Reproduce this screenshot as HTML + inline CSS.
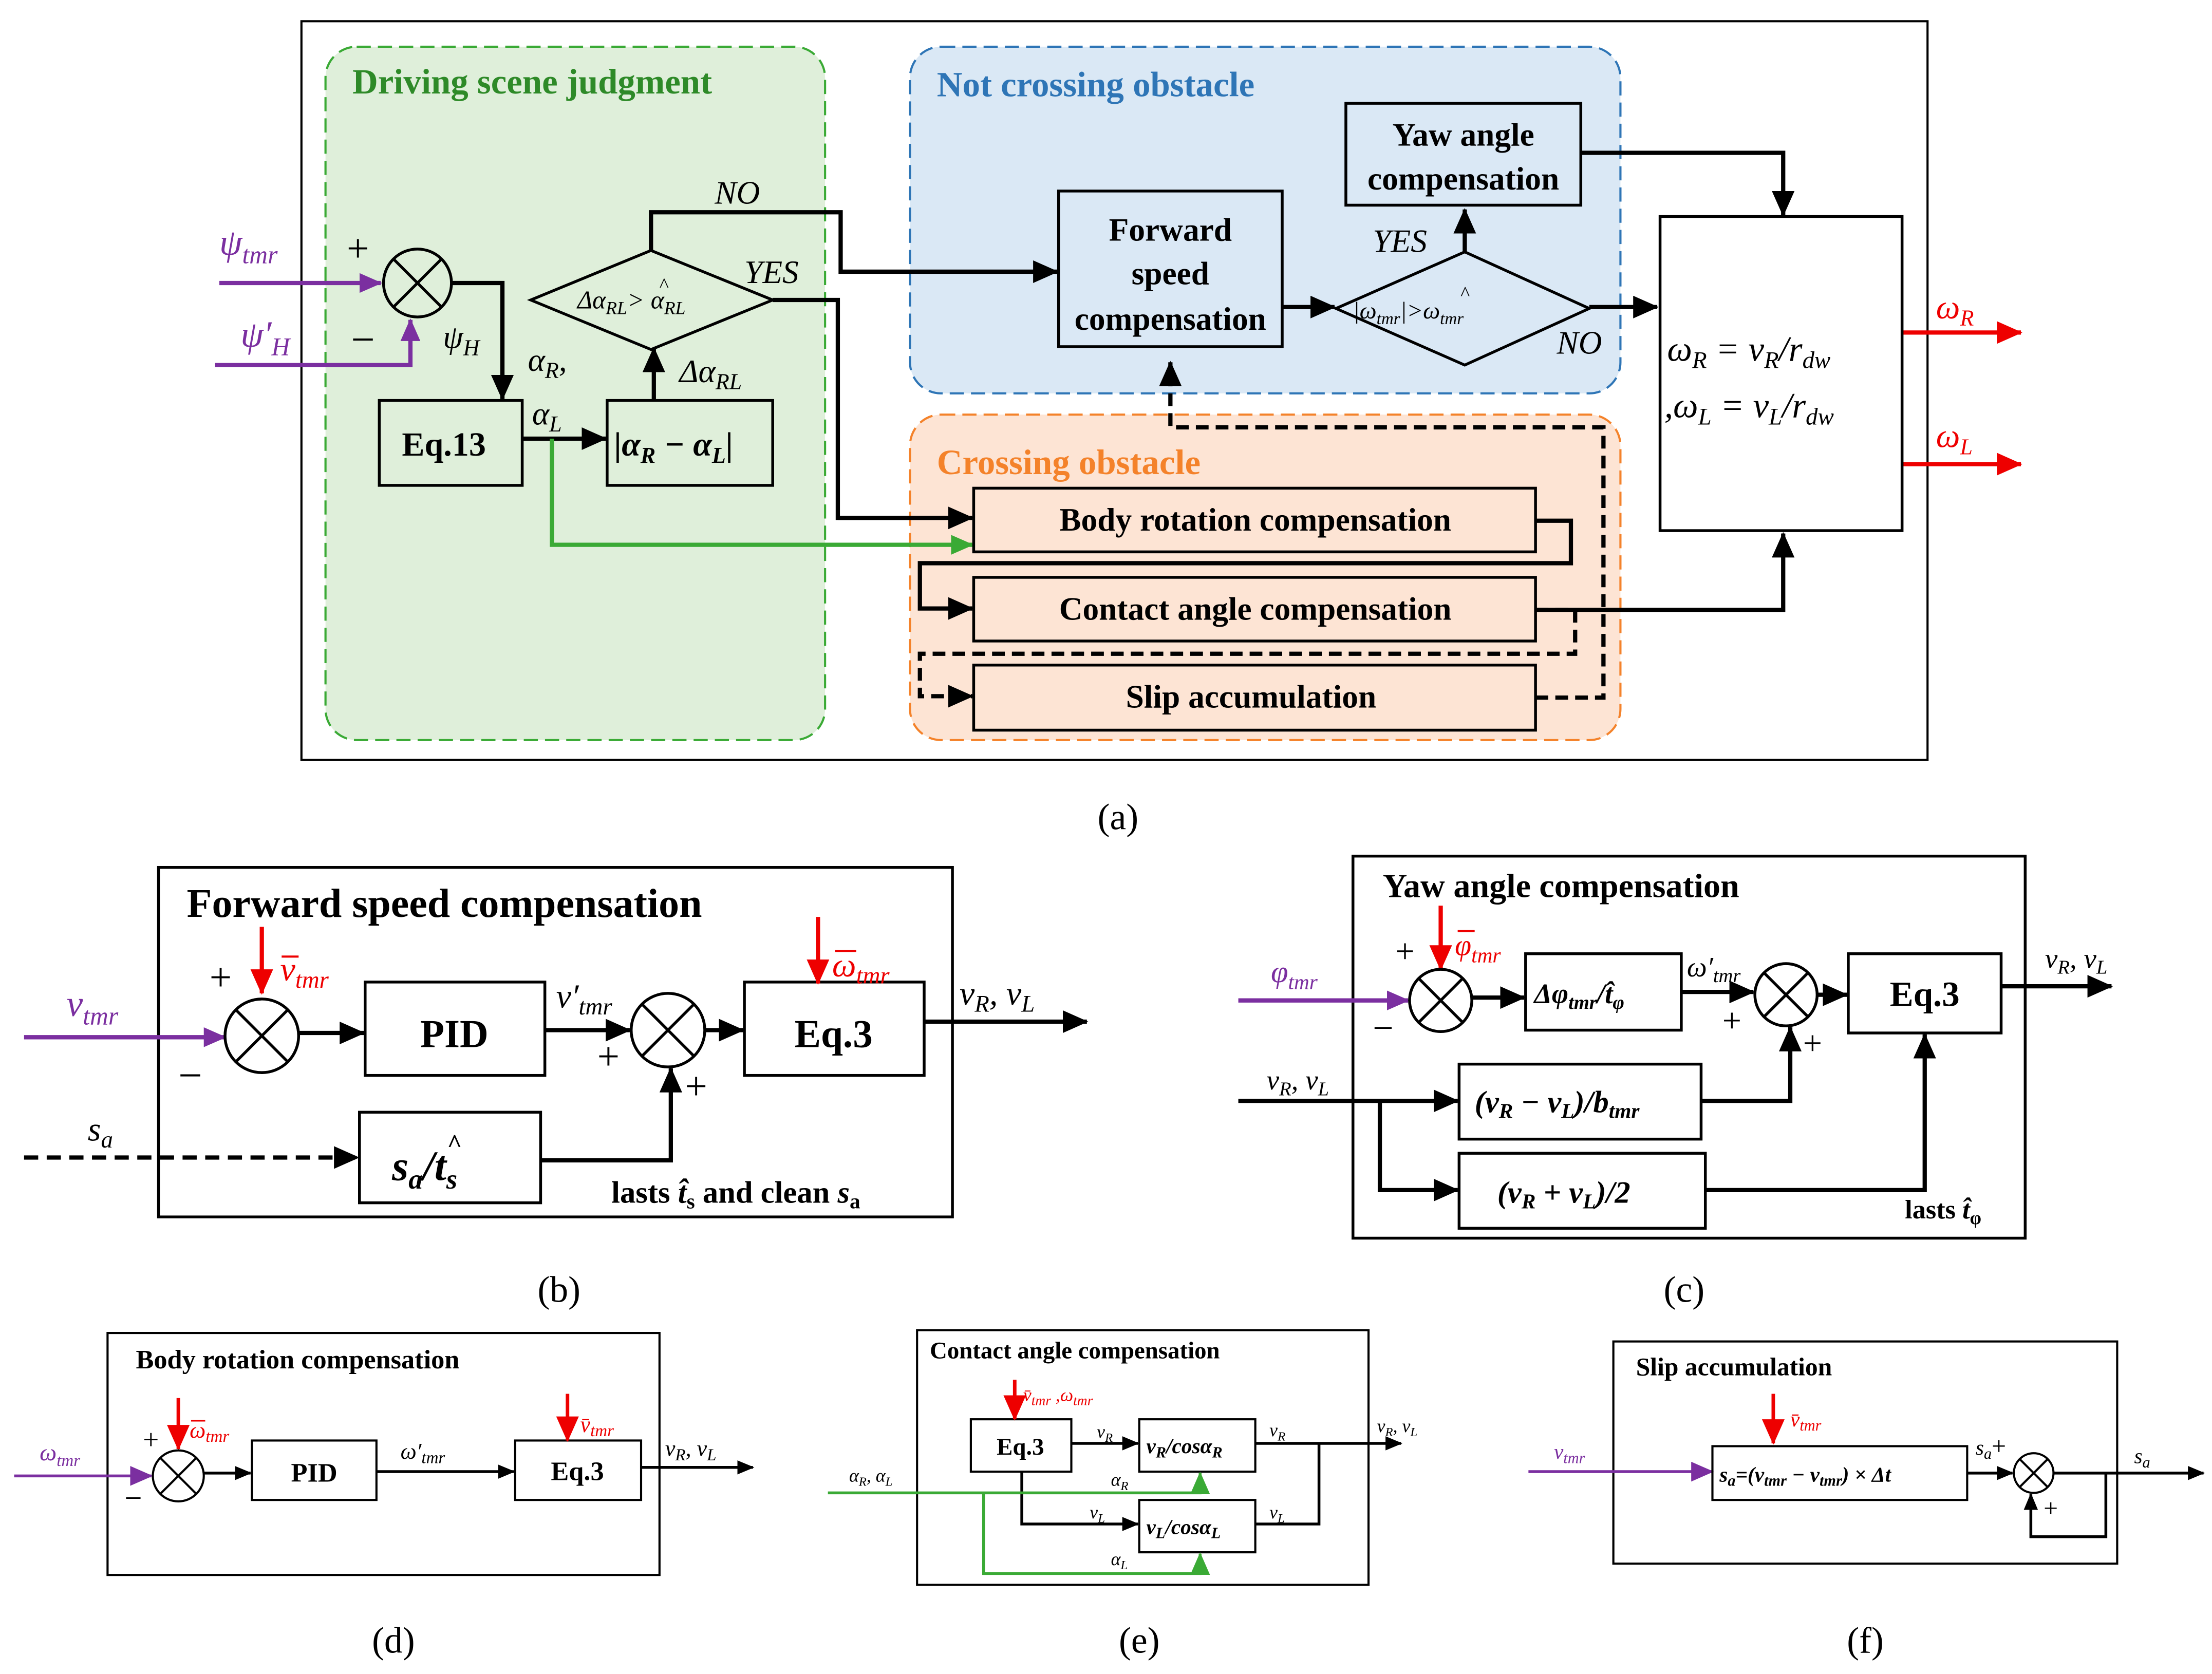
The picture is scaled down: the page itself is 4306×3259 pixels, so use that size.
<!DOCTYPE html>
<html><head><meta charset="utf-8"><style>
html,body{margin:0;padding:0;background:#fff}
svg{display:block}
text{font-family:"Liberation Serif",serif}
.b{font-weight:bold}
.i{font-style:italic}
</style></head><body>
<svg width="4306" height="3259" viewBox="0 0 1563 1183" preserveAspectRatio="none" xmlns="http://www.w3.org/2000/svg">
<defs>
<marker id="ak" markerWidth="12" markerHeight="10" refX="11" refY="5" orient="auto" markerUnits="userSpaceOnUse"><path d="M0,0 L12,5 L0,10z" fill="#000"/></marker>
<marker id="ar" markerWidth="18" markerHeight="16" refX="17" refY="8" orient="auto" markerUnits="userSpaceOnUse"><path d="M0,0 L18,8 L0,16z" fill="#e00"/></marker>
<marker id="ap" markerWidth="16" markerHeight="14" refX="15" refY="7" orient="auto" markerUnits="userSpaceOnUse"><path d="M0,0 L16,7 L0,14z" fill="#7b2fa0"/></marker>
<marker id="ag" markerWidth="16" markerHeight="14" refX="15" refY="7" orient="auto" markerUnits="userSpaceOnUse"><path d="M0,0 L16,7 L0,14z" fill="#3aaa35"/></marker>
<marker id="ak2" markerWidth="18" markerHeight="16" refX="17" refY="8" orient="auto" markerUnits="userSpaceOnUse"><path d="M0,0 L18,8 L0,16z" fill="#000"/></marker>
</defs>
<rect width="1563" height="1183" fill="#fff"/>

<!-- (a) -->
<rect x="213" y="15" width="1149" height="522" fill="none" stroke="#000" stroke-width="1.5"/>
<rect x="230" y="33" width="353" height="490" rx="22" fill="#dfefda" stroke="#3aaa35" stroke-width="1.5" stroke-dasharray="10,5"/>
<rect x="643" y="33" width="502" height="245" rx="22" fill="#dae8f5" stroke="#2e75b6" stroke-width="1.5" stroke-dasharray="10,5"/>
<rect x="643" y="293" width="502" height="230" rx="22" fill="#fde4d4" stroke="#f4822a" stroke-width="1.5" stroke-dasharray="10,5"/>
<text x="249" y="66" class="b" font-size="25" fill="#2e8a28">Driving scene judgment</text>
<text x="662" y="68" class="b" font-size="25" fill="#2e75b6">Not crossing obstacle</text>
<text x="662" y="335" class="b" font-size="25" fill="#f4822a">Crossing obstacle</text>

<g stroke="#000" stroke-width="3" fill="none">
<circle cx="295" cy="200" r="24" stroke-width="2"/>
<path d="M278,183 L312,217 M312,183 L278,217" stroke-width="2"/>
<path d="M319,200 H355 V282" marker-end="url(#ak2)"/>
<path d="M369,310 H428" marker-end="url(#ak2)"/>
<path d="M462,283 V246" marker-end="url(#ak2)"/>
<path d="M460,177 V150 H594 V192 H747" marker-end="url(#ak2)"/>
<path d="M546,212 H592 V366 H668"/>
<path d="M906,217 H943" marker-end="url(#ak2)"/>
<path d="M1035,178 V148" marker-end="url(#ak2)"/>
<path d="M1123,217 H1171" marker-end="url(#ak2)"/>
<path d="M1117,108 H1260 V152" marker-end="url(#ak2)"/>
<path d="M1085,368 H1110 V398 H650 V430 H687" marker-end="url(#ak2)"/>
<path d="M1085,431 H1260 V377" marker-end="url(#ak2)"/>
<path d="M1085,431 H1113 V462 H650 V492 H687" stroke-dasharray="9,5" marker-end="url(#ak2)"/>
<path d="M1085,493 H1133 V302 H827 V256" stroke-dasharray="9,5" marker-end="url(#ak2)"/>
</g>
<path d="M390,310 V385 H687" stroke="#3aaa35" stroke-width="3" fill="none" marker-end="url(#ag)"/>
<path d="M592,366 H687" stroke="#000" stroke-width="3" fill="none" marker-end="url(#ak2)"/>
<path d="M155,200 H269" stroke="#7b2fa0" stroke-width="3" marker-end="url(#ap)"/>
<path d="M152,258 H290 V226" stroke="#7b2fa0" stroke-width="3" fill="none" marker-end="url(#ap)"/>
<path d="M1344,235 H1428" stroke="#e00" stroke-width="3" marker-end="url(#ar)"/>
<path d="M1344,328 H1428" stroke="#e00" stroke-width="3" marker-end="url(#ar)"/>

<g stroke="#000" stroke-width="2">
<rect x="268" y="283" width="101" height="60" fill="#dfefda"/>
<rect x="429" y="283" width="117" height="60" fill="#dfefda"/>
<polygon points="375,212 460,177 546,212 460,247" fill="#dfefda"/>
<rect x="748" y="135" width="158" height="110" fill="#dae8f5"/>
<polygon points="944,218 1035,178 1123,218 1035,258" fill="#dae8f5"/>
<rect x="951" y="73" width="166" height="72" fill="#dae8f5"/>
<rect x="1173" y="153" width="171" height="222" fill="#fff"/>
<rect x="688" y="345" width="397" height="45" fill="#fde4d4"/>
<rect x="688" y="408" width="397" height="45" fill="#fde4d4"/>
<rect x="688" y="470" width="397" height="46" fill="#fde4d4"/>
</g>
<g font-size="23">
<text x="284" y="322" class="b" font-size="24">Eq.13</text>
<text x="434" y="322" class="b i" font-size="24">|α<tspan font-size="16" dy="5">R</tspan><tspan dy="-5"> − α</tspan><tspan font-size="16" dy="5">L</tspan><tspan dy="-5">|</tspan></text>
<text x="408" y="218" class="i" font-size="18">Δα<tspan font-size="13" dy="4">RL</tspan><tspan dy="-4">&gt; α</tspan><tspan font-size="13" dy="4">RL</tspan></text>
<text x="466" y="206" font-size="14">^</text>
<text x="505" y="144" class="i">NO</text>
<text x="526" y="200" class="i">YES</text>
<text x="480" y="270" class="i">Δα<tspan font-size="16" dy="5">RL</tspan></text>
<text x="373" y="262" class="i">α<tspan font-size="16" dy="5">R</tspan><tspan dy="-5">,</tspan></text>
<text x="376" y="300" class="i">α<tspan font-size="16" dy="5">L</tspan></text>
<text x="313" y="246" class="i">ψ<tspan font-size="16" dy="5">H</tspan></text>
<text x="155" y="180" class="i" fill="#7b2fa0" font-size="26">ψ<tspan font-size="18" dy="6">tmr</tspan></text>
<text x="170" y="245" class="i" fill="#7b2fa0" font-size="26">ψ′<tspan font-size="18" dy="6">H</tspan></text>
<text x="245" y="185" font-size="28">+</text>
<text x="248" y="250" font-size="30">−</text>
<text x="827" y="170" class="b" text-anchor="middle">Forward</text>
<text x="827" y="201" class="b" text-anchor="middle">speed</text>
<text x="827" y="233" class="b" text-anchor="middle">compensation</text>
<text x="1034" y="103" class="b" text-anchor="middle">Yaw angle</text>
<text x="1034" y="134" class="b" text-anchor="middle">compensation</text>
<text x="970" y="178" class="i">YES</text>
<text x="1100" y="250" class="i">NO</text>
<text x="956" y="225" class="i" font-size="17">|ω<tspan font-size="12" dy="4">tmr</tspan><tspan dy="-4">|&gt;ω</tspan><tspan font-size="12" dy="4">tmr</tspan></text>
<text x="1032" y="212" font-size="14">^</text>
<text x="1178" y="255" class="i" font-size="25">ω<tspan font-size="17" dy="5">R</tspan><tspan dy="-5"> = v</tspan><tspan font-size="17" dy="5">R</tspan><tspan dy="-5">/r</tspan><tspan font-size="17" dy="5">dw</tspan></text>
<text x="1176" y="295" class="i" font-size="25">,ω<tspan font-size="17" dy="5">L</tspan><tspan dy="-5"> = v</tspan><tspan font-size="17" dy="5">L</tspan><tspan dy="-5">/r</tspan><tspan font-size="17" dy="5">dw</tspan></text>
<text x="1368" y="225" class="i" fill="#e00" font-size="24">ω<tspan font-size="16" dy="5">R</tspan></text>
<text x="1368" y="316" class="i" fill="#e00" font-size="24">ω<tspan font-size="16" dy="5">L</tspan></text>
<text x="887" y="375" class="b" text-anchor="middle">Body rotation compensation</text>
<text x="887" y="438" class="b" text-anchor="middle">Contact angle compensation</text>
<text x="884" y="500" class="b" text-anchor="middle">Slip accumulation</text>
<text x="790" y="586" font-size="26" text-anchor="middle">(a)</text>
</g>

<!-- (b) -->
<rect x="112" y="613" width="561" height="247" fill="none" stroke="#000" stroke-width="2"/>
<text x="132" y="648" class="b" font-size="29">Forward speed compensation</text>
<path d="M17,733 H159" stroke="#7b2fa0" stroke-width="3" marker-end="url(#ap)"/>
<text x="47" y="718" class="i" fill="#7b2fa0" font-size="26">v<tspan font-size="18" dy="6">tmr</tspan></text>
<path d="M185,655 V702" stroke="#e00" stroke-width="3" marker-end="url(#ar)"/>
<text x="198" y="693" class="i" fill="#e00" font-size="24">v<tspan font-size="17" dy="5">tmr</tspan></text>
<path d="M199,676 H211" stroke="#e00" stroke-width="1.5"/>
<text x="148" y="700" font-size="28">+</text>
<text x="126" y="770" font-size="30">−</text>
<g stroke="#000" stroke-width="2" fill="none">
<circle cx="185" cy="732" r="26"/><path d="M167,714 L203,750 M203,714 L167,750"/>
<circle cx="472" cy="728" r="26"/><path d="M454,710 L490,746 M490,710 L454,746"/>
<rect x="258" y="694" width="127" height="66"/>
<rect x="526" y="694" width="127" height="66"/>
<rect x="254" y="786" width="128" height="64"/>
</g>
<g stroke="#000" stroke-width="3" fill="none">
<path d="M211,730 H257" marker-end="url(#ak2)"/>
<path d="M385,728 H445" marker-end="url(#ak2)"/>
<path d="M498,728 H525" marker-end="url(#ak2)"/>
<path d="M653,722 H768" marker-end="url(#ak2)"/>
<path d="M17,818 H253" stroke-dasharray="10,6" marker-end="url(#ak2)"/>
<path d="M382,820 H474 V755" marker-end="url(#ak2)"/>
</g>
<path d="M578,648 V695" stroke="#e00" stroke-width="3" marker-end="url(#ar)"/>
<text x="588" y="690" class="i" fill="#e00" font-size="24">ω<tspan font-size="17" dy="5">tmr</tspan></text>
<path d="M590,672 H605" stroke="#e00" stroke-width="1.5"/>
<text x="321" y="740" class="b" font-size="28" text-anchor="middle">PID</text>
<text x="589" y="740" class="b" font-size="28" text-anchor="middle">Eq.3</text>
<text x="277" y="834" class="b i" font-size="30">s<tspan font-size="20" dy="6">a</tspan><tspan dy="-6">/t</tspan><tspan font-size="20" dy="6">s</tspan></text>
<text x="316" y="814" font-size="18" class="b">^</text>
<text x="393" y="712" class="i" font-size="24">v′<tspan font-size="17" dy="5">tmr</tspan></text>
<text x="678" y="710" class="i" font-size="24">v<tspan font-size="17" dy="5">R</tspan><tspan dy="-5">, v</tspan><tspan font-size="17" dy="5">L</tspan></text>
<text x="62" y="806" class="i" font-size="24">s<tspan font-size="17" dy="5">a</tspan></text>
<text x="422" y="756" font-size="28">+</text>
<text x="484" y="777" font-size="28">+</text>
<text x="432" y="850" class="b" font-size="22">lasts <tspan class="i">t̂</tspan><tspan font-size="15" dy="4">s</tspan><tspan dy="-4"> and clean </tspan><tspan class="i">s</tspan><tspan font-size="15" dy="4">a</tspan></text>
<text x="395" y="920" font-size="26" text-anchor="middle">(b)</text>

<!-- (c) -->
<rect x="956" y="605" width="475" height="270" fill="none" stroke="#000" stroke-width="2"/>
<text x="977" y="634" class="b" font-size="24">Yaw angle compensation</text>
<path d="M875,707 H995" stroke="#7b2fa0" stroke-width="3" marker-end="url(#ap)"/>
<text x="898" y="694" class="i" fill="#7b2fa0" font-size="22">φ<tspan font-size="15" dy="5">tmr</tspan></text>
<path d="M1018,640 V685" stroke="#e00" stroke-width="3" marker-end="url(#ar)"/>
<text x="1028" y="675" class="i" fill="#e00" font-size="21">φ<tspan font-size="15" dy="5">tmr</tspan></text>
<path d="M1030,658 H1042" stroke="#e00" stroke-width="1.5"/>
<text x="986" y="680" font-size="24">+</text>
<text x="970" y="735" font-size="26">−</text>
<g stroke="#000" stroke-width="2" fill="none">
<circle cx="1018" cy="707" r="22"/><path d="M1003,692 L1033,722 M1033,692 L1003,722"/>
<circle cx="1262" cy="703" r="22"/><path d="M1247,688 L1277,718 M1277,688 L1247,718"/>
<rect x="1078" y="674" width="110" height="54"/>
<rect x="1306" y="674" width="108" height="56"/>
<rect x="1031" y="752" width="171" height="53"/>
<rect x="1031" y="815" width="174" height="53"/>
</g>
<g stroke="#000" stroke-width="3" fill="none">
<path d="M1040,705 H1077" marker-end="url(#ak2)"/>
<path d="M1188,701 H1239" marker-end="url(#ak2)"/>
<path d="M1284,703 H1305" marker-end="url(#ak2)"/>
<path d="M1414,697 H1492" marker-end="url(#ak2)"/>
<path d="M875,778 H1030" marker-end="url(#ak2)"/>
<path d="M975,778 V841 H1030" marker-end="url(#ak2)"/>
<path d="M1202,778 H1265 V726" marker-end="url(#ak2)"/>
<path d="M1205,841 H1360 V731" marker-end="url(#ak2)"/>
</g>
<text x="1084" y="709" class="b i" font-size="20">Δφ<tspan font-size="14" dy="4">tmr</tspan><tspan dy="-4">/t̂</tspan><tspan font-size="14" dy="4">φ</tspan></text>
<text x="1360" y="711" class="b" font-size="25" text-anchor="middle">Eq.3</text>
<text x="1042" y="786" class="b i" font-size="22">(v<tspan font-size="15" dy="4">R</tspan><tspan dy="-4"> − v</tspan><tspan font-size="15" dy="4">L</tspan><tspan dy="-4">)/b</tspan><tspan font-size="15" dy="4">tmr</tspan></text>
<text x="1058" y="850" class="b i" font-size="22">(v<tspan font-size="15" dy="4">R</tspan><tspan dy="-4"> + v</tspan><tspan font-size="15" dy="4">L</tspan><tspan dy="-4">)/2</tspan></text>
<text x="1192" y="690" class="i" font-size="20">ω′<tspan font-size="14" dy="4">tmr</tspan></text>
<text x="1445" y="684" class="i" font-size="20">v<tspan font-size="14" dy="4">R</tspan><tspan dy="-4">, v</tspan><tspan font-size="14" dy="4">L</tspan></text>
<text x="895" y="770" class="i" font-size="20">v<tspan font-size="14" dy="4">R</tspan><tspan dy="-4">, v</tspan><tspan font-size="14" dy="4">L</tspan></text>
<text x="1217" y="729" font-size="24">+</text>
<text x="1274" y="745" font-size="24">+</text>
<text x="1346" y="861" class="b" font-size="19">lasts <tspan class="i">t̂</tspan><tspan font-size="13" dy="4">φ</tspan></text>
<text x="1190" y="920" font-size="26" text-anchor="middle">(c)</text>

<!-- (d) -->
<rect x="76" y="942" width="390" height="171" fill="none" stroke="#000" stroke-width="1.5"/>
<text x="96" y="967" class="b" font-size="19">Body rotation compensation</text>
<path d="M10,1043 H107" stroke="#7b2fa0" stroke-width="2" marker-end="url(#ap)"/>
<text x="28" y="1032" class="i" fill="#7b2fa0" font-size="17">ω<tspan font-size="12" dy="4">tmr</tspan></text>
<path d="M126,988 V1024" stroke="#e00" stroke-width="2.5" marker-end="url(#ar)"/>
<text x="134" y="1016" class="i" fill="#e00" font-size="16">ω<tspan font-size="12" dy="3">tmr</tspan></text>
<path d="M135,1004 H145" stroke="#e00" stroke-width="1.2"/>
<text x="101" y="1024" font-size="20">+</text>
<text x="88" y="1066" font-size="22">−</text>
<g stroke="#000" stroke-width="1.5" fill="none">
<circle cx="126" cy="1043" r="18"/><path d="M113,1030 L139,1056 M139,1030 L113,1056"/>
<rect x="178" y="1018" width="88" height="42"/>
<rect x="364" y="1018" width="89" height="42"/>
</g>
<g stroke="#000" stroke-width="2" fill="none">
<path d="M144,1041 H177" marker-end="url(#ak)"/>
<path d="M266,1040 H363" marker-end="url(#ak)"/>
<path d="M453,1037 H532" marker-end="url(#ak)"/>
</g>
<path d="M401,985 V1018" stroke="#e00" stroke-width="2.5" marker-end="url(#ar)"/>
<text x="410" y="1012" class="i" fill="#e00" font-size="16">v̄<tspan font-size="12" dy="3">tmr</tspan></text>
<text x="222" y="1047" class="b" font-size="19" text-anchor="middle">PID</text>
<text x="408" y="1046" class="b" font-size="19" text-anchor="middle">Eq.3</text>
<text x="283" y="1031" class="i" font-size="16">ω′<tspan font-size="12" dy="3">tmr</tspan></text>
<text x="470" y="1029" class="i" font-size="16">v<tspan font-size="12" dy="3">R</tspan><tspan dy="-3">, v</tspan><tspan font-size="12" dy="3">L</tspan></text>
<text x="278" y="1168" font-size="26" text-anchor="middle">(d)</text>

<!-- (e) -->
<rect x="648" y="940" width="319" height="180" fill="none" stroke="#000" stroke-width="1.5"/>
<text x="657" y="960" class="b" font-size="17">Contact angle compensation</text>
<g stroke="#000" stroke-width="1.5" fill="none">
<rect x="686" y="1003" width="71" height="37"/>
<rect x="805" y="1003" width="82" height="37"/>
<rect x="805" y="1060" width="82" height="37"/>
</g>
<g stroke="#000" stroke-width="2" fill="none">
<path d="M757,1020 H804" marker-end="url(#ak)"/>
<path d="M722,1040 V1077 H804" marker-end="url(#ak)"/>
<path d="M887,1020 H990" marker-end="url(#ak)"/>
<path d="M887,1077 H932 V1020"/>
</g>
<g stroke="#3aaa35" stroke-width="2" fill="none">
<path d="M585,1055 H848 V1041" marker-end="url(#ag)"/>
<path d="M695,1055 V1112 H848 V1098" marker-end="url(#ag)"/>
</g>
<path d="M717,975 V1003" stroke="#e00" stroke-width="2.5" marker-end="url(#ar)"/>
<text x="723" y="990" class="i" fill="#e00" font-size="13">v̄<tspan font-size="10" dy="3">tmr</tspan><tspan dy="-3"> ,ω</tspan><tspan font-size="10" dy="3">tmr</tspan></text>
<text x="721" y="1028" class="b" font-size="17" text-anchor="middle">Eq.3</text>
<text x="810" y="1027" class="b i" font-size="15">v<tspan font-size="11" dy="3">R</tspan><tspan dy="-3">/cosα</tspan><tspan font-size="11" dy="3">R</tspan></text>
<text x="810" y="1084" class="b i" font-size="15">v<tspan font-size="11" dy="3">L</tspan><tspan dy="-3">/cosα</tspan><tspan font-size="11" dy="3">L</tspan></text>
<g class="i" font-size="13">
<text x="775" y="1016">v<tspan font-size="9" dy="3">R</tspan></text>
<text x="770" y="1073">v<tspan font-size="9" dy="3">L</tspan></text>
<text x="897" y="1015">v<tspan font-size="9" dy="3">R</tspan></text>
<text x="897" y="1073">v<tspan font-size="9" dy="3">L</tspan></text>
<text x="973" y="1012">v<tspan font-size="9" dy="3">R</tspan><tspan dy="-3">, v</tspan><tspan font-size="9" dy="3">L</tspan></text>
<text x="600" y="1047">α<tspan font-size="9" dy="3">R</tspan><tspan dy="-3">, α</tspan><tspan font-size="9" dy="3">L</tspan></text>
<text x="785" y="1050">α<tspan font-size="9" dy="3">R</tspan></text>
<text x="785" y="1106">α<tspan font-size="9" dy="3">L</tspan></text>
</g>
<text x="805" y="1168" font-size="26" text-anchor="middle">(e)</text>

<!-- (f) -->
<rect x="1140" y="948" width="356" height="157" fill="none" stroke="#000" stroke-width="1.5"/>
<text x="1156" y="972" class="b" font-size="18">Slip accumulation</text>
<path d="M1080,1040 H1210" stroke="#7b2fa0" stroke-width="2" marker-end="url(#ap)"/>
<text x="1098" y="1031" class="i" fill="#7b2fa0" font-size="15">v<tspan font-size="11" dy="3">tmr</tspan></text>
<path d="M1253,985 V1020" stroke="#e00" stroke-width="2.5" marker-end="url(#ar)"/>
<text x="1265" y="1008" class="i" fill="#e00" font-size="15">v̄<tspan font-size="11" dy="3">tmr</tspan></text>
<g stroke="#000" stroke-width="1.5" fill="none">
<rect x="1210" y="1022" width="180" height="38"/>
<circle cx="1437" cy="1041" r="14"/><path d="M1427,1031 L1447,1051 M1447,1031 L1427,1051"/>
</g>
<g stroke="#000" stroke-width="2" fill="none">
<path d="M1390,1041 H1422" marker-end="url(#ak)"/>
<path d="M1451,1041 H1557" marker-end="url(#ak)"/>
<path d="M1488,1041 V1086 H1435 V1056" marker-end="url(#ak)"/>
</g>
<text x="1215" y="1047" class="b i" font-size="15">s<tspan font-size="11" dy="3">a</tspan><tspan dy="-3">=(v</tspan><tspan font-size="11" dy="3">tmr</tspan><tspan dy="-3"> − v</tspan><tspan font-size="11" dy="3">tmr</tspan><tspan dy="-3">) × Δt</tspan></text>
<text x="1396" y="1028" class="i" font-size="15">s<tspan font-size="11" dy="3">a</tspan><tspan dy="-3" font-style="normal" font-size="18">+</tspan></text>
<text x="1444" y="1072" font-size="18">+</text>
<text x="1508" y="1034" class="i" font-size="15">s<tspan font-size="11" dy="3">a</tspan></text>
<text x="1318" y="1168" font-size="26" text-anchor="middle">(f)</text>
</svg>
</body></html>
